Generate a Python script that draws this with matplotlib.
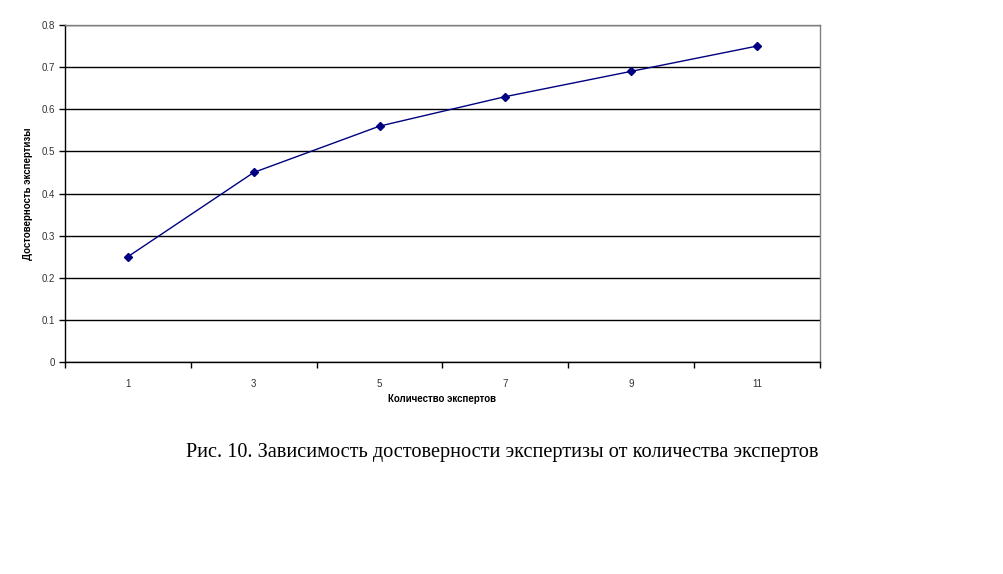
import numpy as np
import matplotlib.pyplot as plt

experts = ['1', '3', '5', '7', '9', '11']
reliability = [0.25, 0.45, 0.56, 0.63, 0.69, 0.75]
y_ticks = [0, 0.1, 0.2, 0.3, 0.4, 0.5, 0.6, 0.7, 0.8]
y_labels = ['0', '0.1', '0.2', '0.3', '0.4', '0.5', '0.6', '0.7', '0.8']

plt.rcParams['font.family'] = ['Liberation Sans', 'DejaVu Sans']

fig = plt.figure(figsize=(10.04, 5.74), dpi=100)
ax = fig.add_axes([65 / 1004, 1 - 362 / 574, 755 / 1004, 337 / 574])

pos = np.arange(len(experts))
ax.plot(pos, reliability, color='#000080', linewidth=1, marker='D', markersize=4.5,
        markerfacecolor='#000080', markeredgecolor='#000080', zorder=3)

ax.set_xlim(-0.5, len(experts) - 0.5)
ax.set_ylim(0, 0.8)

# category axis: ticks between categories, labels centred on them
ax.set_xticks(np.arange(-0.5, len(experts), 1.0))
ax.set_xticklabels([])
ax.set_xticks(pos, minor=True)
ax.set_xticklabels(experts, minor=True, fontsize=7, color='#333333')
ax.tick_params(axis='x', which='major', length=4, width=1, color='black', direction='out')
ax.tick_params(axis='x', which='minor', length=0, pad=12)

ax.set_yticks(y_ticks)
ax.set_yticklabels(y_labels, fontsize=7, color='#333333')
ax.tick_params(axis='y', length=4, width=1, color='black', direction='out', pad=3)

ax.yaxis.grid(True, color='black', linewidth=1)
ax.set_axisbelow(True)

for side in ['top', 'right']:
    ax.spines[side].set_color('#808080')
    ax.spines[side].set_linewidth(1)
for side in ['left', 'bottom']:
    ax.spines[side].set_color('black')
    ax.spines[side].set_linewidth(1)

ax.set_xlabel('Количество экспертов', fontsize=7, fontweight='bold', labelpad=4)
ax.set_ylabel('Достоверность экспертизы', fontsize=7, fontweight='bold', labelpad=6)

fig.text(502 / 1004, 1 - 453 / 574, 'Рис. 10. Зависимость достоверности экспертизы от количества экспертов',
         family='Liberation Serif', fontsize=14.6, ha='center', va='center')

fig.savefig('out.png', dpi=100)
